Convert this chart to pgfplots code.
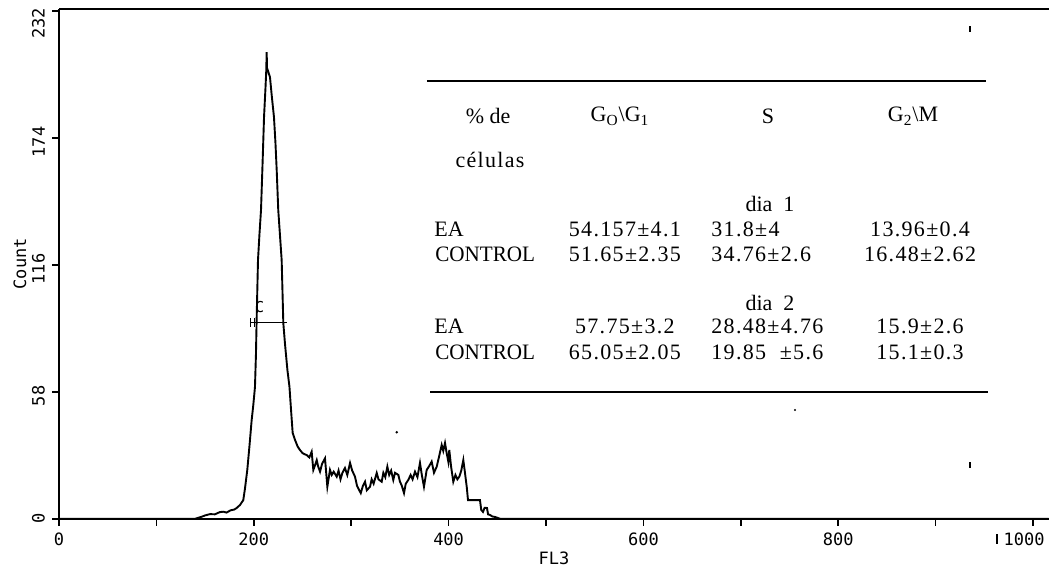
\documentclass[border=0pt]{standalone}
\usepackage{fontspec}
\setmainfont{Liberation Serif}
\newfontfamily\dotfont{DejaVu Sans Mono}
\newfontfamily\numf[LetterSpace=6]{Liberation Serif}
\usepackage{graphicx}
\usepackage{pgfplots}
\pgfplotsset{compat=1.18}
\usepackage{pgfplotstable}

% FL3 histogram
\pgfplotstableread{
x y
0 0
140 0
146.5 0.9
150 1.5
155 2.1
160 2.0
165 3.0
168.7 3.2
172 2.8
176 3.8
180 4.2
182.4 4.9
185.9 6.3
189.2 8.5
191 14
193.3 22.3
195.5 33
197.8 45.1
199.5 52
201.2 60.3
202.2 75
202.9 90.8
204.3 118.2
205.8 130
207.4 141.1
209.1 163.9
210.5 183.6
212 197
212.8 205
213.2 213.3
213.6 206
216.6 201.9
218.5 193
220.7 183.6
222.2 172
223.5 159.4
225.1 141.1
226.8 130
228.6 118.2
230.3 89.4
232 80
234.5 68
236.6 60.3
238.5 48
239.9 39.2
242.3 36.0
245 33
247.4 31.4
250 30
252 29.5
254.3 29.1
257 28
259.4 30.6
261.1 22.3
262.5 24
264.6 26.8
266 24
268 21.5
270 25
273.1 27.6
275.5 14.6
278.2 22.3
280 20
282 21.5
285.1 19.2
287 22
289 18
291 21
293.6 23.2
296 20
298.8 25.5
301 22
303.9 19.2
306 15
309.8 11.7
312 15
314.2 16.9
316 13
319.3 14.6
321 18
323 16
326.2 20.9
328 18
331.3 16.9
333 21
335 19
337.1 23.8
339 20
341 22
343.2 17.7
345 21
348.4 20.0
350 17
352 15
354.2 11.7
356 16
358.6 17.7
361 20
363 18
365.5 21.5
368 19
370.6 25.5
372.5 20
374.7 14.6
377.5 22.3
380 24
382.6 26.1
385 21
387.8 23.8
390 28
392.9 33.7
394.5 31
396.3 34.6
398 30
399.7 26.1
400.7 31.4
402.5 24
404.8 16.9
407 20
409 18
411 19.2
413 22
415.1 26.8
416.5 22
418.6 14.6
419.9 8.5
426 8.5
432.2 8.5
433.5 4
435.3 3.1
437 5
439.4 4.9
440.5 2
442.5 1.7
445 1
447.6 0.8
452.8 0
1016 0
}\histdata

\newcommand{\tabf}{\fontsize{11}{13}\selectfont}
\newcommand{\ctrl}{\scalebox{0.96}[1]{CONTROL}}

\begin{document}
\begin{tikzpicture}
\useasboundingbox (-29.5pt,-24.65pt) rectangle (495pt,259.35pt);
\begin{axis}[
  scale only axis,
  width=495pt, height=254.85pt,
  xmin=0, xmax=1016.4, ymin=0, ymax=233,
  axis line style={draw=none},
  tick align=outside, tick pos=left,
  major tick length=3.5pt,
  tick style={black, line width=0.8pt},
  xtick={0,100,...,1000},
  xticklabels={0,,200,,400,,600,,800,,{1000\hspace*{9pt}}},
  ytick={0,58,116,174,232},
  yticklabels={0,{58\hspace*{4pt}},{116\hspace*{4pt}},{174\hspace*{4pt}},{232\hspace*{12pt}}},
  ticklabel style={font=\dotfont\fontsize{8.5}{8.5}\selectfont},
  yticklabel style={rotate=90, anchor=south},
  xlabel={FL3}, ylabel={Count},
  label style={font=\dotfont\fontsize{8.5}{8.5}\selectfont},
  xlabel style={at={(axis description cs:0.5,-0.0775)}, anchor=center},
  ylabel style={at={(axis description cs:-0.0394,0.5)}, anchor=center, rotate=0},
  clip=false,
]
% frame: left, bottom and top only
\draw[line width=1.1pt] (rel axis cs:0,1) -- (rel axis cs:0,0) -- (rel axis cs:1,0);
\draw[line width=1.1pt] (rel axis cs:0,1) -- (rel axis cs:1,1);

\addplot[black, line width=0.95pt] table[x=x, y=y] {\histdata};

% gate marker C
\addplot[black, line width=0.8pt] coordinates {(196,89.6) (234,89.6)};
\addplot[black, only marks, mark=|, mark size=2.2pt, mark options={line width=0.8pt}]
  coordinates {(196.8,89.6) (200.9,89.6) (230.3,89.6)};
\node[font=\dotfont\fontsize{7.5}{7.5}\selectfont] at (axis cs:206,96.8) {C};

% scan specks
\fill (axis cs:346.8,39.5) circle (0.7pt);
\fill (axis cs:755.6,49.7) circle (0.6pt);
\draw[line width=0.6pt] (axis cs:935.3,25.9) -- (axis cs:935.3,23.1);
\draw[line width=0.6pt] (axis cs:935.3,225) -- (axis cs:935.3,222.5);
\draw[line width=0.6pt] (axis cs:963,-7) -- (axis cs:963,-11.6);

% inset table
\draw[line width=1pt] (axis cs:377.8,200) -- (axis cs:951.7,200);
\draw[line width=1pt] (axis cs:380.9,57.9) -- (axis cs:953.8,57.9);
\begin{scope}[every node/.style={font=\tabf, inner sep=0pt}]
\node at (axis cs:440.5,184) {\% de};
\node at (axis cs:576,184) {G\textsubscript{O}\textbackslash G\textsubscript{1}};
\node at (axis cs:728,184) {S};
\node at (axis cs:876.8,184) {G\textsubscript{2}\textbackslash M};
\node at (axis cs:442.5,164) {\numf células};
\node at (axis cs:730,144) {dia\enspace 1};
\node[anchor=west] at (axis cs:385,132.4) {EA};
\node at (axis cs:581,132.4) {\numf 54.157±4.1};
\node[anchor=west] at (axis cs:669.4,132.4) {\numf 31.8±4};
\node at (axis cs:884,132.4) {\numf 13.96±0.4};
\node[anchor=west] at (axis cs:386,120.7) {\ctrl};
\node at (axis cs:581,120.7) {\numf 51.65±2.35};
\node[anchor=west] at (axis cs:669.4,120.7) {\numf 34.76±2.6};
\node at (axis cs:884,120.7) {\numf 16.48±2.62};
\node at (axis cs:730,98.6) {dia\enspace 2};
\node[anchor=west] at (axis cs:385,87.8) {EA};
\node at (axis cs:581,87.8) {\numf 57.75±3.2};
\node[anchor=west] at (axis cs:669.4,87.8) {\numf 28.48±4.76};
\node at (axis cs:884,87.8) {\numf 15.9±2.6};
\node[anchor=west] at (axis cs:386,76) {\ctrl};
\node at (axis cs:581,76) {\numf 65.05±2.05};
\node[anchor=west] at (axis cs:669.4,76) {\numf 19.85\ \ ±5.6};
\node at (axis cs:884,76) {\numf 15.1±0.3};
\end{scope}
\end{axis}
\end{tikzpicture}
\end{document}
